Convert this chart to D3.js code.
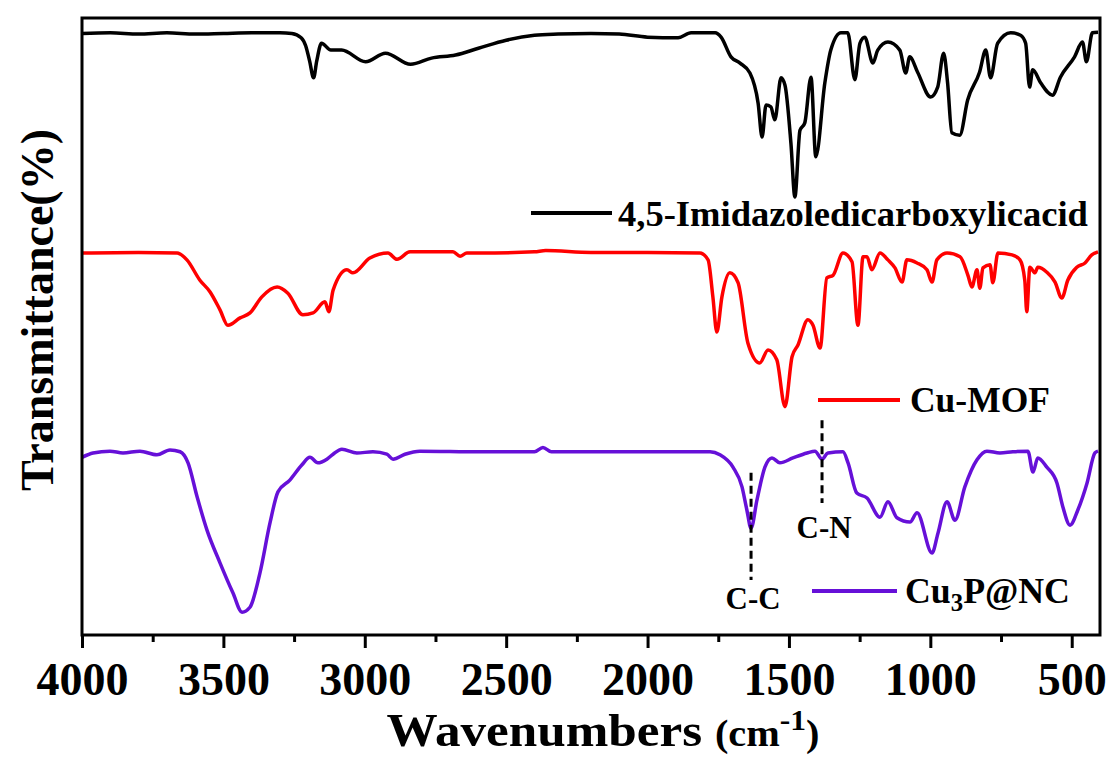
<!DOCTYPE html>
<html>
<head>
<meta charset="utf-8">
<script src="https://cdn.jsdelivr.net/npm/d3@7"></script>
<style>
  body { margin: 0; background: #fff; }
  svg { display: block; }
  text { font-family: "Liberation Serif", "Times New Roman", Tinos, "Nimbus Roman", "Nimbus Roman No9 L", FreeSerif, Times, serif; font-weight: bold; fill: #000; }
</style>
</head>
<body>
<div id="container"></div>
<script>
(function(){
  "use strict";

  // spectra: [wavenumber (cm-1), offset transmittance (a.u.)]
  var ligandSpectrum = [
    [4000, 97.5], [3900, 97.6], [3800, 97.4], [3700, 97.6], [3600, 97.4], [3500, 97.5],
    [3400, 97.6], [3300, 97.6], [3258, 97.5], [3225, 96.8], [3209, 95.5], [3195, 93.0],
    [3181, 90.3], [3170, 93.0], [3153, 95.9], [3120, 94.8], [3082, 94.8], [2997, 92.9],
    [2927, 94.3], [2838, 92.5], [2764, 93.5], [2679, 94.0], [2598, 95.1], [2500, 96.4],
    [2400, 97.2], [2316, 97.4], [2200, 97.5], [2100, 97.4], [2000, 96.9], [1892, 96.8],
    [1846, 97.6], [1761, 97.6], [1740, 96.9], [1705, 93.7], [1673, 92.7], [1638, 91.1],
    [1609, 86.2], [1595, 80.7], [1581, 85.9], [1564, 85.6], [1550, 83.5], [1528, 90.3],
    [1514, 89.1], [1493, 79.7], [1479, 71.0], [1461, 81.8], [1444, 83.0], [1422, 90.4],
    [1405, 77.5], [1373, 89.5], [1352, 94.8], [1316, 97.6], [1292, 97.6], [1267, 90.0],
    [1249, 95.9], [1232, 96.9], [1203, 92.7], [1186, 94.8], [1150, 96.1], [1108, 94.8],
    [1087, 91.1], [1073, 93.7], [1045, 91.2], [999, 87.2], [974, 88.8], [953, 94.3],
    [939, 89.5], [924, 81.4], [896, 81.0], [868, 86.7], [826, 91.2], [804, 94.8],
    [787, 90.3], [762, 95.9], [716, 97.6], [681, 97.2], [663, 95.9], [649, 88.8],
    [638, 91.6], [610, 89.5], [568, 87.5], [540, 90.4], [490, 93.7], [462, 96.1],
    [448, 92.9], [427, 97.6], [407, 97.7]
  ];

  var mofSpectrum = [
    [4000, 61.9], [3800, 62.0], [3664, 61.9], [3629, 60.8], [3583, 57.5], [3547, 55.6],
    [3512, 52.7], [3484, 50.2], [3441, 51.4], [3406, 52.2], [3364, 54.8], [3310, 56.4],
    [3272, 55.4], [3219, 51.9], [3183, 52.2], [3141, 54.0], [3127, 52.4], [3112, 55.9],
    [3063, 59.2], [3042, 58.7], [2982, 61.1], [2918, 61.9], [2886, 60.9], [2840, 62.1],
    [2688, 62.1], [2663, 61.4], [2639, 61.9], [2593, 61.9], [2400, 62.1], [2360, 62.3],
    [2200, 62.0], [2000, 62.0], [1815, 61.9], [1786, 60.8], [1769, 54.8], [1755, 49.1],
    [1737, 54.8], [1709, 58.7], [1680, 57.1], [1645, 47.3], [1603, 44.1], [1574, 46.2],
    [1543, 44.6], [1514, 37.0], [1489, 45.1], [1468, 47.0], [1433, 51.1], [1415, 50.2],
    [1390, 46.5], [1366, 57.9], [1344, 58.3], [1309, 61.9], [1277, 60.5], [1256, 50.2],
    [1238, 61.3], [1224, 61.3], [1207, 59.2], [1178, 61.9], [1150, 60.8], [1125, 59.5],
    [1100, 57.2], [1083, 60.8], [1047, 60.3], [1012, 59.2], [994, 57.2], [977, 60.8],
    [941, 61.9], [895, 61.3], [867, 58.3], [853, 56.4], [835, 59.2], [825, 56.2],
    [814, 59.5], [789, 60.0], [779, 57.1], [761, 61.9], [711, 61.6], [683, 60.8],
    [666, 57.5], [659, 52.4], [648, 59.6], [630, 58.7], [620, 59.6], [588, 58.8],
    [559, 57.2], [535, 54.6], [514, 57.5], [482, 59.6], [453, 60.3], [429, 61.6],
    [407, 62.1]
  ];

  var cu3pSpectrum = [
    [4000, 28.8], [3961, 29.5], [3901, 29.8], [3855, 29.5], [3795, 29.8], [3735, 29.2],
    [3689, 30.0], [3653, 29.7], [3625, 27.9], [3593, 22.4], [3558, 17.0], [3512, 11.7],
    [3466, 6.8], [3434, 3.7], [3406, 4.5], [3371, 10.0], [3335, 18.2], [3307, 23.2],
    [3265, 25.1], [3222, 27.6], [3194, 28.8], [3166, 27.9], [3134, 28.5], [3112, 29.3],
    [3081, 30.1], [3028, 29.5], [2971, 29.7], [2922, 29.3], [2900, 28.5], [2858, 29.3],
    [2805, 29.8], [2593, 29.7], [2400, 29.7], [2370, 30.4], [2340, 29.7], [2000, 29.7],
    [1886, 29.7], [1779, 29.7], [1744, 29.2], [1698, 27.2], [1666, 24.0], [1649, 20.3],
    [1634, 17.3], [1613, 21.9], [1585, 27.2], [1560, 28.7], [1532, 27.9], [1486, 28.7],
    [1436, 29.5], [1408, 29.8], [1383, 28.5], [1362, 29.5], [1309, 29.7], [1291, 27.9],
    [1260, 23.0], [1224, 22.2], [1178, 19.1], [1150, 21.6], [1118, 19.0], [1072, 18.3],
    [1047, 19.8], [994, 13.3], [973, 16.5], [941, 21.6], [913, 18.6], [878, 24.0],
    [835, 28.4], [800, 29.8], [754, 29.5], [708, 29.7], [655, 29.8], [637, 26.4],
    [620, 28.7], [588, 27.2], [552, 24.6], [531, 20.7], [506, 17.8], [478, 20.3],
    [446, 24.6], [418, 29.5], [407, 29.8]
  ];

  var seriesNames = ["4,5-Imidazoledicarboxylicacid", "Cu-MOF", "Cu3P@NC"];
  var majorTicks = [4000, 3500, 3000, 2500, 2000, 1500, 1000, 500];
  var minorTicks = [3750, 3250, 2750, 2250, 1750, 1250, 750];

  // band assignments: wavenumber, dashed line top/bottom, label baseline (a.u.)
  var bandLabels = ["C-C", "C-N"];
  var bandWavenumbers = [1634, 1383];
  var bandTops = [26.3, 34.8];
  var bandBottoms = [8.9, 21.4];
  var bandLabelLevels = [4.2, 15.7];

  var width = 1110, height = 758;
  var plot = { left: 82, right: 1100, top: 18, bottom: 635 };

  var svg = d3.select("#container").append("svg")
      .attr("width", width)
      .attr("height", height);

  // if no Times-metric serif is installed, squash the fallback glyphs a little
  var probe = svg.append("text").style("font-size", "100px").text("0000");
  var probeWidth = probe.node().getComputedTextLength();
  probe.remove();
  var squashY = probeWidth > 230 ? 0.9 : 1;

  // scale a text to the width it has in the reference, around (cx, cy)
  function fitText(sel, target, cx, cy, pre) {
    var w = sel.node().getBBox().width;
    if (!w) return;
    var s = target / w;
    sel.attr("transform", (pre || "") +
      "translate(" + cx + "," + cy + ") scale(" + s + "," + squashY + ") translate(" + (-cx) + "," + (-cy) + ")");
  }

  var xScale = d3.scaleLinear().domain([4000, 400]).range([plot.left, plot.right]);
  var yScale = d3.scaleLinear().domain([0, 100]).range([plot.bottom, plot.top]);

  var series = [
    { name: seriesNames[0], values: ligandSpectrum, color: "#000000",
      legend: { x1: 531, x2: 612, y: 213, tx: 618, ty: 226, w: 470 } },
    { name: seriesNames[1], values: mofSpectrum, color: "#ff0000",
      legend: { x1: 818, x2: 900, y: 400, tx: 910, ty: 412, w: 140 } },
    { name: seriesNames[2], values: cu3pSpectrum, color: "#6610d8",
      legend: { x1: 812, x2: 897, y: 591, tx: 905, ty: 603, w: 165 } }
  ];

  var line = d3.line()
      .x(function(d) { return xScale(d[0]); })
      .y(function(d) { return yScale(d[1]); })
      .curve(d3.curveMonotoneX);

  svg.append("defs").append("clipPath").attr("id", "plot-clip")
    .append("rect")
      .attr("x", plot.left).attr("y", plot.top)
      .attr("width", plot.right - plot.left).attr("height", plot.bottom - plot.top);

  svg.append("g").attr("clip-path", "url(#plot-clip)")
    .selectAll("path")
    .data(series)
    .enter().append("path")
      .attr("d", function(s) { return line(s.values); })
      .attr("fill", "none")
      .attr("stroke", function(s) { return s.color; })
      .attr("stroke-width", 3.5)
      .attr("stroke-linejoin", "round");

  // dashed band markers
  bandLabels.forEach(function(label, i) {
    var x = xScale(bandWavenumbers[i]);
    svg.append("line")
      .attr("x1", x).attr("x2", x)
      .attr("y1", yScale(bandTops[i])).attr("y2", yScale(bandBottoms[i]))
      .attr("stroke", "#000")
      .attr("stroke-width", 3)
      .attr("stroke-dasharray", "8,5");
    var ty = yScale(bandLabelLevels[i]);
    var t = svg.append("text")
      .attr("x", x + 2)
      .attr("y", ty)
      .attr("text-anchor", "middle")
      .style("font-size", "31px")
      .text(label);
    fitText(t, 55, x + 2, ty);
  });

  // legends
  series.forEach(function(s) {
    var lg = s.legend;
    svg.append("line")
      .attr("x1", lg.x1).attr("x2", lg.x2)
      .attr("y1", lg.y).attr("y2", lg.y)
      .attr("stroke", s.color)
      .attr("stroke-width", 4);
    var t = svg.append("text")
      .attr("x", lg.tx).attr("y", lg.ty)
      .style("font-size", "36px");
    if (s.name === "Cu3P@NC") {
      t.append("tspan").text("Cu");
      t.append("tspan").attr("dy", 8).style("font-size", "25px").text("3");
      t.append("tspan").attr("dy", -8).text("P@NC");
    } else {
      t.text(s.name);
    }
    fitText(t, lg.w, lg.tx, lg.ty);
  });

  // frame
  svg.append("rect")
    .attr("x", plot.left).attr("y", plot.top)
    .attr("width", plot.right - plot.left).attr("height", plot.bottom - plot.top)
    .attr("fill", "none")
    .attr("stroke", "#000")
    .attr("stroke-width", 3);

  // bottom axis, major + minor ticks
  var xAxis = d3.axisBottom(xScale)
      .tickValues(majorTicks)
      .tickSize(13)
      .tickFormat(d3.format("d"));
  var xAxisGroup = svg.append("g")
      .attr("transform", "translate(0," + plot.bottom + ")")
      .call(xAxis);
  xAxisGroup.attr("font-family", null).attr("font-size", null);
  xAxisGroup.select(".domain").remove();
  xAxisGroup.selectAll(".tick line").attr("stroke-width", 3);
  xAxisGroup.selectAll(".tick text")
      .attr("y", 60)
      .attr("dy", 0)
      .style("font-size", "46px")
      .each(function(d) {
        fitText(d3.select(this), String(d).length * 23, 0, 60);
      });

  var minorAxis = d3.axisBottom(xScale).tickValues(minorTicks).tickSize(7).tickFormat("");
  var minorGroup = svg.append("g")
      .attr("transform", "translate(0," + plot.bottom + ")")
      .call(minorAxis);
  minorGroup.select(".domain").remove();
  minorGroup.selectAll(".tick line").attr("stroke-width", 3);

  // axis titles
  var xTitle = svg.append("text")
      .attr("x", 603)
      .attr("y", 746)
      .attr("text-anchor", "middle")
      .style("font-size", "47px");
  xTitle.append("tspan").text("Wavenumbers ");
  xTitle.append("tspan").style("font-size", "37px").text("(cm");
  xTitle.append("tspan").attr("dy", -16).style("font-size", "29px").text("-1");
  xTitle.append("tspan").attr("dy", 16).style("font-size", "37px").text(")");
  fitText(xTitle, 433, 603, 746);

  var yTitle = svg.append("text")
      .attr("text-anchor", "middle")
      .style("font-size", "46px")
      .text("Transmittance(%)");
  fitText(yTitle, 362, 0, 0, "translate(53,310) rotate(-90) ");
})();
</script>
</body>
</html>
